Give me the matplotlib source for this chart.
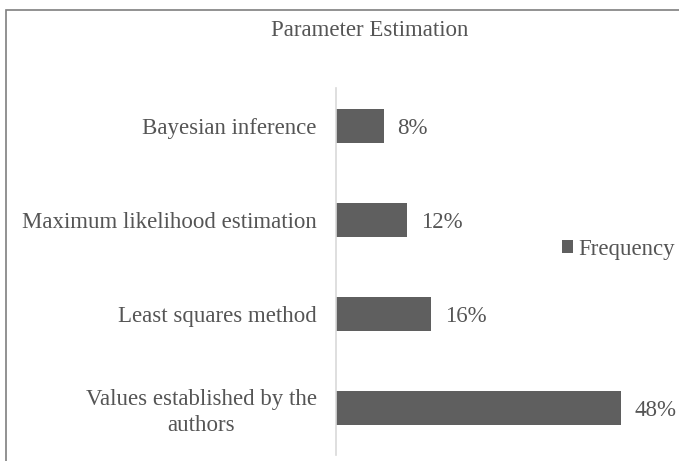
import matplotlib.pyplot as plt
from matplotlib.patches import Rectangle

# Dados
metodos = ['Values established by the\nauthors', 'Least squares method',
           'Maximum likelihood estimation', 'Bayesian inference']
frequencia = [48, 16, 12, 8]

cor_barra = '#5f5f5f'
cor_texto = '#555555'
plt.rcParams['font.family'] = ['Liberation Serif', 'DejaVu Serif']

fig = plt.figure(figsize=(6.79, 4.61), dpi=100)
ax = fig.add_axes([336 / 679, 6 / 461, 297 / 679, 367 / 461])

pos = list(range(len(metodos)))
barras = ax.barh(pos, frequencia, height=0.36, color=cor_barra, label='Frequency')

ax.set_ylim(-0.5, 3.404)
ax.set_xlim(0, 50)
ax.set_yticks(pos)
ax.set_yticklabels(metodos, fontsize=16.5, color=cor_texto, multialignment='center',
                   linespacing=1.3)
ax.tick_params(axis='y', length=0, pad=14)
ax.set_xticks([])
for lado in ['top', 'right', 'bottom']:
    ax.spines[lado].set_visible(False)
ax.spines['left'].set_color('#d9d9d9')
ax.spines['left'].set_linewidth(1.2)

for b, v in zip(barras, frequencia):
    ax.text(b.get_width() + 2.3, b.get_y() + b.get_height() / 2 - 0.03, f'{v}%',
            va='center', ha='left', fontsize=16.5, color=cor_texto)

fig.text(370 / 679, 1 - 31 / 461, 'Parameter Estimation', ha='center', va='center',
         fontsize=16.5, color=cor_texto)

ax.legend(loc='center left', bbox_to_anchor=(562 / 679, 1 - 249 / 461),
          bbox_transform=fig.transFigure, frameon=False, fontsize=16.5,
          handlelength=0.5, handleheight=0.5, handletextpad=0.2,
          labelcolor=cor_texto, borderaxespad=0, borderpad=0)

# moldura
fig.patches.append(Rectangle((6 / 679, -0.1), 1.2, 1.1 - 10 / 461, transform=fig.transFigure,
                             fill=False, edgecolor='#7f7f7f', linewidth=1.2, clip_on=False))

fig.savefig('out.png', dpi=100)
